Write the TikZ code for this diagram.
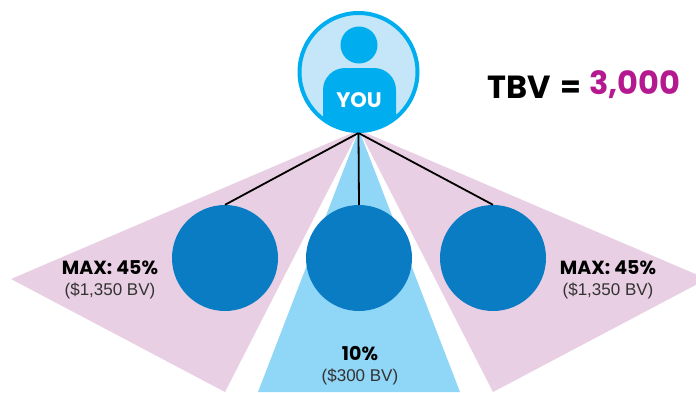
\documentclass[tikz,border=0pt]{standalone}
\usepackage{fontspec}
\setmainfont{Liberation Sans}
\newfontfamily\headfont{Poppins}
\usetikzlibrary{positioning}
\definecolor{sidepink}{HTML}{E8CFE3}
\definecolor{midblue}{HTML}{8FD6F7}
\definecolor{downblue}{HTML}{0A7CC4}
\definecolor{youcyan}{HTML}{00AEEF}
\definecolor{youpale}{HTML}{C5E6F8}
\definecolor{tbvpink}{HTML}{B5198F}
\tikzset{
  down/.style={circle, fill=downblue, minimum size=106pt, inner sep=0pt},
  share/.style={font=\headfont\bfseries\fontsize{19}{22}\selectfont, inner sep=0pt},
  amount/.style={font=\fontsize{17}{20}\selectfont, text=black!80, inner sep=0pt},
  link/.style={draw=black, line width=1.8pt}
}
\begin{document}
\begin{tikzpicture}[x=1pt, y=-1pt]
\useasboundingbox (0,0) rectangle (696,392);
\clip (0,0) rectangle (696,392);

\fill[sidepink] (359,130) -- (11,279) -- (225,392) -- cycle;
\fill[sidepink] (359,130) -- (707,279) -- (493,392) -- cycle;
\fill[midblue] (359,130) -- (258,392) -- (460,392) -- cycle;

\node[circle, draw=youcyan, fill=youpale, line width=4pt, minimum size=118pt, inner sep=0pt] (you) at (358.5,72) {};
\node[down] (left) at (225,258) {};
\node[down] (mid) at (359,258) {};
\node[down] (right) at (493,258) {};

\draw[link] (you.south) -- (left.north);
\draw[link] (you.south) -- (mid.north);
\draw[link] (you.south) -- (right.north);

% person inside the ring
\begin{scope}
\clip (358.5,72) circle (58.5pt);
\fill[youcyan, rounded corners=22pt] (323,140) -- (323,68) -- (396,68) -- (396,140) -- cycle;
\end{scope}
\node[circle, fill=youcyan, minimum size=37pt, inner sep=0pt] (head) at (359,45) {};
\node[font=\headfont\bfseries\fontsize{21}{24}\selectfont, text=white, inner sep=0pt] (youtext) at (359,100.5) {YOU};

\node[share] (leftshare) at (110,267.5) {MAX: 45\%};
\node[amount] (leftamount) at (110,290.5) {(\$1,350 BV)};
\node[share] (rightshare) at (608,267.5) {MAX: 45\%};
\node[amount] (rightamount) at (608,290.5) {(\$1,350 BV)};
\node[share] (midshare) at (360,354) {10\%};
\node[amount] (midamount) at (360,377) {(\$300 BV)};

\node[font=\headfont\bfseries\fontsize{32}{35}\selectfont, inner sep=0pt] (tbv) at (519,87) {TBV};
\node[font=\headfont\bfseries\fontsize{30}{33}\selectfont, inner sep=0pt] (equals) at (571,89) {=};
\node[font=\headfont\bfseries\fontsize{32}{35}\selectfont, text=tbvpink, inner sep=0pt] (total) at (635,85) {3,000};
\end{tikzpicture}
\end{document}
